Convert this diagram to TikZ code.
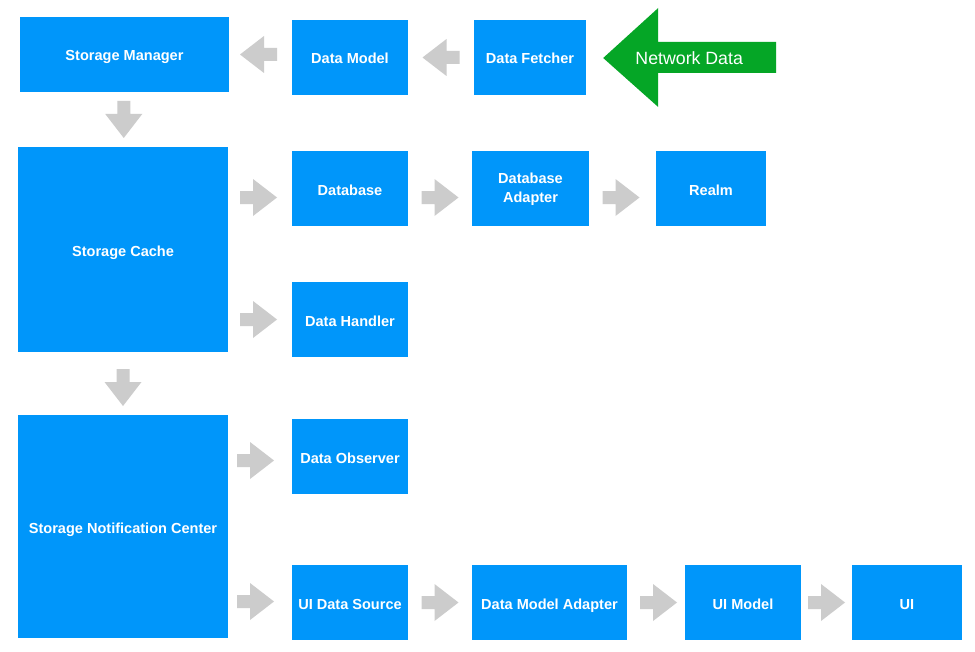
\documentclass[tikz,border=0pt]{standalone}
\usepackage{fontspec}
\setmainfont{Liberation Sans}
\usetikzlibrary{calc}
\definecolor{boxblue}{HTML}{0096FA}
\definecolor{arrowgray}{HTML}{CCCCCC}
\definecolor{netgreen}{HTML}{05A626}
\newcommand\grayarr[2]{\fill[arrowgray, shift={#1}, rotate=#2] (-18.5,-6.5) -- (-5.5,-6.5) -- (-5.5,-18.5) -- (18.5,0) -- (-5.5,18.5) -- (-5.5,6.5) -- (-18.5,6.5) -- cycle;}
\begin{document}
\begin{tikzpicture}[x=1bp,y=-1bp,
  box/.style={fill=boxblue, draw=none, text=white, inner sep=0pt, align=center, text depth=0pt, text height=13bp,
    font=\fontsize{14.6}{19}\selectfont\bfseries, minimum height=75bp, minimum width=116bp}]
\useasboundingbox (0,0) rectangle (975,652);
\fill[white] (0,0) rectangle (975,652);
% nodes
\node[box, minimum width=209bp] (sm) at (124.5,54.5) {Storage Manager};
\node[box] (dm) at (350,57.5) {Data Model};
\node[box, minimum width=112bp] (df) at (530,57.5) {Data Fetcher};
\node[box, minimum width=210bp, minimum height=205bp] (sc) at (123,249.5) {Storage Cache};
\node[box] (db) at (350,188.5) {Database};
\node[box, minimum width=117bp, text height={}, text depth=1bp] (da) at (530.5,188.5) {Database\\Adapter};
\node[box, minimum width=110bp] (realm) at (711,188.5) {Realm};
\node[box] (dh) at (350,319.5) {Data Handler};
\node[box, minimum width=210bp, minimum height=223bp] (snc) at (123,526.5) {Storage Notification Center};
\node[box] (do) at (350,456.5) {Data Observer};
\node[box] (uids) at (350,602.5) {UI Data Source};
\node[box, minimum width=155bp] (dma) at (549.5,602.5) {Data Model Adapter};
\node[box] (uim) at (743,602.5) {UI Model};
\node[box, minimum width=110bp] (ui) at (907,602.5) {UI};
% network data arrow
\coordinate (nettip) at ($(df.east)+(17,0.5)$);
\fill[netgreen] (nettip) -- ($(nettip)+(55,-50)$) -- ($(nettip)+(55,-16)$) -- ($(nettip)+(173,-16)$)
  -- ($(nettip)+(173,15)$) -- ($(nettip)+(55,15)$) -- ($(nettip)+(55,49)$) -- cycle;
\node[text=white, font=\fontsize{17.8}{20}\selectfont, inner sep=0pt] (net) at ($(nettip)+(86,0)$) {Network Data};
% gray arrows
\grayarr{($(sm.east)!0.5!(dm.west)+(-2,-1.5)$)}{180}
\grayarr{($(dm.east)!0.5!(df.west)$)}{180}
\grayarr{($(sm.south)!0.5!(sc.north)$)}{-90}
\grayarr{($(sc.east |- db.west)!0.5!(db.west)+(-1.5,9)$)}{0}
\grayarr{($(db.east)!0.5!(da.west)+(0,9)$)}{0}
\grayarr{($(da.east)!0.5!(realm.west)+(-1.5,9)$)}{0}
\grayarr{($(sc.east |- dh.west)!0.5!(dh.west)+(-1.5,0)$)}{0}
\grayarr{($(sc.south)!0.5!(snc.north)+(0,4)$)}{-90}
\grayarr{($(snc.east |- do.west)!0.5!(do.west)+(-4.5,4)$)}{0}
\grayarr{($(snc.east |- uids.west)!0.5!(uids.west)+(-4.5,-1)$)}{0}
\grayarr{($(uids.east)!0.5!(dma.west)$)}{0}
\grayarr{($(dma.east)!0.5!(uim.west)+(2.5,0)$)}{0}
\grayarr{($(uim.east)!0.5!(ui.west)$)}{0}
\end{tikzpicture}
\end{document}
